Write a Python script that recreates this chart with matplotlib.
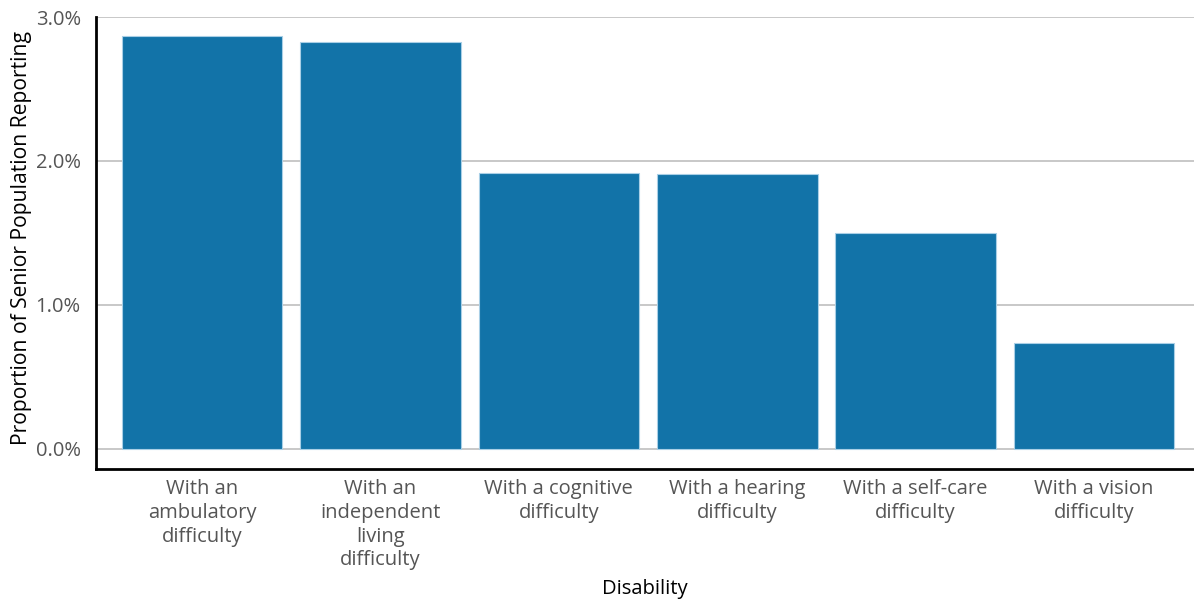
import matplotlib
matplotlib.use("Agg")
import matplotlib.pyplot as plt
from matplotlib.ticker import FuncFormatter

# data
categories = [
    "With an\nambulatory\ndifficulty",
    "With an\nindependent\nliving\ndifficulty",
    "With a cognitive\ndifficulty",
    "With a hearing\ndifficulty",
    "With a self-care\ndifficulty",
    "With a vision\ndifficulty",
]
values = [2.867, 2.825, 1.914, 1.907, 1.503, 0.738]
yticks = [0.0, 1.0, 2.0, 3.0]

plt.rcParams['font.family'] = ['Open Sans', 'DejaVu Sans']

fig = plt.figure(figsize=(11.94, 5.99), dpi=100)
ax = fig.add_axes([0.0804, 0.217, 0.9196, 0.7546])

x = range(len(categories))
ax.bar(x, values, width=0.9, color="#1273a8", edgecolor="#a9cfe6",
       linewidth=0.8, zorder=3)

ax.set_xlim(-0.594, 5.56)
ax.set_ylim(-0.14, 3.0)
ax.set_yticks(yticks)
ax.yaxis.set_major_formatter(FuncFormatter(lambda v, p: f"{v:.1f}%"))
ax.grid(axis="y", color="#c8c8c8", linewidth=1.4, zorder=0)

ax.set_xticks(list(x))
ax.set_xticklabels(categories, linespacing=1.26)
ax.tick_params(axis="both", length=0, labelsize=14.5, labelcolor="#555555")
ax.tick_params(axis="x", pad=7)
ax.tick_params(axis="y", pad=11)

for s in ["top", "right"]:
    ax.spines[s].set_visible(False)
for s in ["left", "bottom"]:
    ax.spines[s].set_linewidth(2)
    ax.spines[s].set_color("black")

ax.set_xlabel("Disability", fontsize=14.5, labelpad=6)
ax.set_ylabel("Proportion of Senior Population Reporting", fontsize=15.2)
ax.yaxis.set_label_coords(-0.058, 0.512)

fig.savefig("out.png", dpi=100)
